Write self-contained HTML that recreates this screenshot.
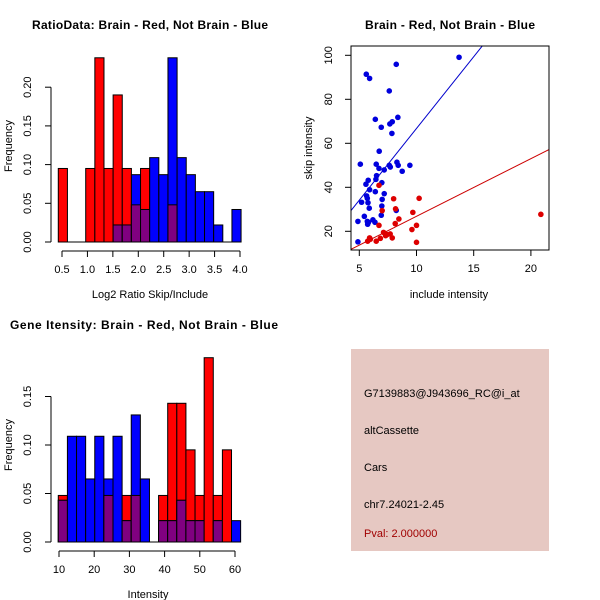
<!DOCTYPE html>
<html><head><meta charset="utf-8"><style>
body{margin:0;background:#fff}
svg{display:block;font-family:"Liberation Sans",sans-serif}
</style></head><body>
<svg id="c" width="600" height="600" viewBox="0 0 600 600" xmlns="http://www.w3.org/2000/svg">
<rect width="600" height="600" fill="#fff"/>
<g font-weight="bold" font-size="12" text-anchor="middle">
<text x="150" y="29" textLength="236">RatioData: Brain - Red, Not Brain - Blue</text>
<text x="450" y="29" textLength="170">Brain - Red, Not Brain - Blue</text>
<text x="144" y="329" textLength="268">Gene Itensity: Brain - Red, Not Brain - Blue</text>
</g>
<g font-size="11" text-anchor="middle">
<text x="150" y="298">Log2 Ratio Skip/Include</text>
<text transform="translate(12,146) rotate(-90)">Frequency</text>
<text x="148" y="598">Intensity</text>
<text transform="translate(12,445) rotate(-90)">Frequency</text>
<text x="449" y="298">include intensity</text>
<text transform="translate(312,148) rotate(-90)">skip intensity</text>
</g>
<g id="info">
<rect x="351" y="349" width="198" height="202" fill="#e6c8c2"/>
<g font-size="11">
<text x="364" y="397">G7139883@J943696_RC@i_at</text>
<text x="364" y="434">altCassette</text>
<text x="364" y="471">Cars</text>
<text x="364" y="508">chr7.24021-2.45</text>
<text x="364" y="537" fill="#a00000">Pval: 2.000000</text>
</g></g>
</svg>
<script>
// ratio histogram data
const ratioStart = 0.427, ratioWidth = 0.1797;
const ratioRed  = [0.095,0,0,0.095,0.238,0.095,0.19,0.095,0.048,0.095,0,0,0.048,0,0,0,0,0,0,0];
const ratioBlue = [0,0,0,0,0,0,0.022,0.022,0.087,0.042,0.109,0.087,0.238,0.109,0.087,0.065,0.065,0.022,0,0.042];
const ratioXTicks = [0.5,1.0,1.5,2.0,2.5,3.0,3.5,4.0];
const ratioXLabels = ["0.5","1.0","1.5","2.0","2.5","3.0","3.5","4.0"];
const ratioYTicks = [0,0.05,0.10,0.15,0.20];
const ratioYLabels = ["0.00","0.05","0.10","0.15","0.20"];
// intensity histogram data
const intStart = 9.8, intWidth = 2.59;
const intRed  = [0.048,0,0,0,0,0.048,0,0.048,0.048,0,0,0.048,0.143,0.143,0.095,0.048,0.19,0.048,0.095,0];
const intBlue = [0.043,0.109,0.109,0.065,0.109,0.065,0.109,0.022,0.131,0.065,0,0.022,0.022,0.043,0.022,0.022,0,0.022,0,0.022];
const intXTicks = [10,20,30,40,50,60];
const intXLabels = ["10","20","30","40","50","60"];
const intYTicks = [0,0.05,0.10,0.15];
const intYLabels = ["0.00","0.05","0.10","0.15"];
// scatter data
const blueX = [13.72,8.23,5.61,5.9,7.62,8.37,6.4,7.88,7.67,6.92,7.85,6.74,5.09,6.48,8.29,8.4,9.42,7.62,6.72,7.71,7.18,8.75,6.51,6.45,5.78,6.97,5.58,5.9,6.4,7.18,5.64,5.7,7.0,5.2,5.76,6.97,5.87,8.23,6.92,5.44,6.19,4.88,5.7,6.37,5.73,4.88,5.8];
const blueY = [99.1,95.9,91.4,89.5,83.8,71.8,70.9,69.8,68.8,67.3,64.5,56.4,50.5,50.5,51.4,50.0,50.0,50,48.6,49.2,47.9,47.3,45.3,43.6,43.2,42.1,41.4,38.9,38.0,37.1,36.1,35.0,34.5,33.2,33.0,31.5,30.5,29.5,27.3,26.8,25.2,24.5,24.5,24.1,23.2,15.2,24.1];
const redX = [6.72,7.0,8.0,8.17,10.23,9.68,8.46,8.14,10.0,9.6,6.72,7.12,7.41,7.7,7.3,7.88,6.84,5.9,5.73,6.48,10.0,20.87,5.96];
const redY = [40.9,29.4,34.8,30.2,35.0,28.6,25.6,23.5,22.7,20.8,22.7,19.5,18.5,18.8,18.0,17.0,16.8,17.0,15.5,15.5,15.0,27.7,16.4];
const fitBlue = [1.55,6.52]; // intercept, slope
const fitRed = [0.6,2.62];
const scXTicks = [5,10,15,20];
const scXLabels = ["5","10","15","20"];
const scYTicks = [20,40,60,80,100];
const scYLabels = ["20","40","60","80","100"];

const NS="http://www.w3.org/2000/svg", svg=document.getElementById('c');
function mk(tag, attrs, parent){const e=document.createElementNS(NS,tag);for(const k in attrs)e.setAttribute(k,attrs[k]);(parent||svg).appendChild(e);return e;}

function hist(o){
  const g=mk('g',{});
  
  
  const sx=v=>o.x0px+(v-o.x0)*o.xs, sy=v=>o.y0px-v*o.ys;
  const n=o.red.length;
  for(let i=0;i<n;i++){
    const a=sx(o.start+i*o.w), b=sx(o.start+(i+1)*o.w);
    const r=o.red[i], bl=o.blue[i], m=Math.min(r,bl);
    if(r>0){const e=mk('rect',{x:a,y:sy(r),width:b-a,height:sy(0)-sy(r),fill:'#ff0000',stroke:'#000','stroke-width':1},g);
      
      }
    if(bl>0){const e=mk('rect',{x:a,y:sy(bl),width:b-a,height:sy(0)-sy(bl),fill:'#0000ff',stroke:'#000','stroke-width':1},g);
      
      }
    if(m>0){const e=mk('rect',{x:a,y:sy(m),width:b-a,height:sy(0)-sy(m),fill:'#800080',stroke:'#000','stroke-width':1},g);
      
      }
  }
  mk('line',{x1:sx(o.start),x2:sx(o.start+n*o.w),y1:sy(0),y2:sy(0),stroke:'#000'},g);
  const ay=sy(0)+9;
  mk('line',{x1:sx(o.xt[0]),x2:sx(o.xt[o.xt.length-1]),y1:ay,y2:ay,stroke:'#000'},g);
  o.xt.forEach((t,i)=>{mk('line',{x1:sx(t),x2:sx(t),y1:ay,y2:ay+6,stroke:'#000'},g);
    const tx=mk('text',{x:sx(t),y:ay+22,'font-size':11,'text-anchor':'middle'},g);tx.textContent=o.xl[i];
    
    });
  const ax=o.axX;
  mk('line',{x1:ax,x2:ax,y1:sy(0),y2:sy(o.yt[o.yt.length-1]),stroke:'#000'},g);
  o.yt.forEach((t,i)=>{mk('line',{x1:ax,x2:ax-6,y1:sy(t),y2:sy(t),stroke:'#000'},g);
    const tx=mk('text',{transform:`translate(${ax-20},${sy(t)}) rotate(-90)`,'font-size':11,'text-anchor':'middle'},g);tx.textContent=o.yl[i];
    
    });
}
hist({name:'ratio-histogram',red:ratioRed,blue:ratioBlue,start:ratioStart,w:ratioWidth,x0:0.5,x0px:62,xs:50.86,y0px:242,ys:774,axX:51,xt:ratioXTicks,xl:ratioXLabels,yt:ratioYTicks,yl:ratioYLabels});
hist({name:'intensity-histogram',red:intRed,blue:intBlue,start:intStart,w:intWidth,x0:10,x0px:59,xs:3.52,y0px:542,ys:970,axX:51,xt:intXTicks,xl:intXLabels,yt:intYTicks,yl:intYLabels});

(function(){
  const g=mk('g',{});
  
  
  const L=351,R=549,T=46,B=250;
  const sx=v=>359.3+(v-5)*11.44, sy=v=>231.3-(v-20)*2.2;
  const cp=mk('clipPath',{id:'clp'},g);mk('rect',{x:L,y:T,width:R-L,height:B-T},cp);
  const fits=[[fitBlue,'#0000cc','blue-fit-line'],[fitRed,'#cc0000','red-fit-line']];
  fits.forEach(f=>{const x1=4,x2=22;
    const e=mk('line',{x1:sx(x1),x2:sx(x2),y1:sy(f[0][0]+f[0][1]*x1),y2:sy(f[0][0]+f[0][1]*x2),stroke:f[1],'clip-path':'url(#clp)'},g);
    
    });
  blueX.forEach((x,i)=>{const e=mk('circle',{cx:sx(x),cy:sy(blueY[i]),r:2.8,fill:'#0000dd'},g);
    
    });
  redX.forEach((x,i)=>{const e=mk('circle',{cx:sx(x),cy:sy(redY[i]),r:2.8,fill:'#dd0000'},g);
    
    });
  mk('rect',{x:L,y:T,width:R-L,height:B-T,fill:'none',stroke:'#000'},g);
  scXTicks.forEach((t,i)=>{mk('line',{x1:sx(t),x2:sx(t),y1:B,y2:B+6,stroke:'#000'},g);
    const tx=mk('text',{x:sx(t),y:B+22,'font-size':11,'text-anchor':'middle'},g);tx.textContent=scXLabels[i];
    
    });
  scYTicks.forEach((t,i)=>{mk('line',{x1:L,x2:L-6,y1:sy(t),y2:sy(t),stroke:'#000'},g);
    const tx=mk('text',{transform:`translate(${L-19},${sy(t)}) rotate(-90)`,'font-size':11,'text-anchor':'middle'},g);tx.textContent=scYLabels[i];
    
    });
})();
</script>
</body></html>
